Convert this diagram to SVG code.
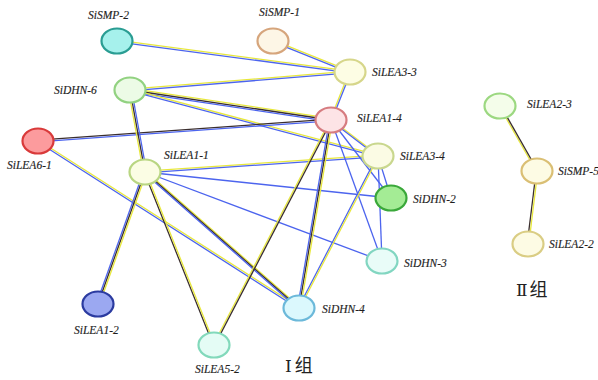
<svg xmlns="http://www.w3.org/2000/svg" width="598" height="380" viewBox="0 0 598 380">
  <style>
    .edges line { stroke-width: 1.3; fill: none; }
    .y { stroke: #e8e83c; }
    .b { stroke: #4c64ee; }
    .k { stroke: #3a2e2e; }
    .node ellipse { stroke-width: 2.2; }
    .lbl { font-family: "Liberation Serif", "Times New Roman", serif; font-style: italic; font-size: 11.5px; fill: #1e1e1e; stroke: #1e1e1e; stroke-width: 0.15; }
    .grp { font-family: "Noto Sans CJK SC", sans-serif; font-size: 18px; fill: #222; }
    .num { font-family: "DejaVu Serif", "Liberation Serif", serif; font-size: 17px; }
  </style>
  <rect width="598" height="380" fill="#fff"/>

  <!-- connectors: parallel strands per evidence type -->
  <g id="connectors" class="edges">
    <!-- SiSMP-2 – SiLEA3-3 -->
    <line class="y" x1="117" y1="40.2" x2="350" y2="71.2"/>
    <line class="b" x1="117" y1="41.8" x2="350" y2="72.8"/>
    <!-- SiSMP-1 – SiLEA3-3 -->
    <line class="y" x1="273" y1="40.2" x2="350" y2="71.2"/>
    <line class="b" x1="273" y1="41.8" x2="350" y2="72.8"/>
    <!-- SiDHN-6 – SiLEA3-3 -->
    <line class="y" x1="130" y1="89.2" x2="350" y2="71.2"/>
    <line class="b" x1="130" y1="90.8" x2="350" y2="72.8"/>
    <!-- SiDHN-6 – SiLEA1-4 -->
    <line class="y" x1="130" y1="88.4" x2="331" y2="118.4"/>
    <line class="k" x1="130" y1="90" x2="331" y2="120"/>
    <line class="b" x1="130" y1="91.6" x2="331" y2="121.6"/>
    <!-- SiDHN-6 – SiLEA3-4 -->
    <line class="y" x1="130" y1="89.2" x2="378" y2="155.2"/>
    <line class="b" x1="130" y1="90.8" x2="378" y2="156.8"/>
    <!-- SiLEA6-1 – SiLEA1-4 -->
    <line class="k" x1="38" y1="140.2" x2="331" y2="119.2"/>
    <line class="b" x1="38" y1="141.8" x2="331" y2="120.8"/>
    <!-- SiLEA6-1 – SiDHN-4 -->
    <line class="y" x1="38" y1="140" x2="299" y2="307"/>
    <line class="b" x1="38" y1="142" x2="299" y2="309"/>
    <!-- SiDHN-6 – SiLEA1-1 -->
    <line class="y" x1="128.4" y1="90" x2="143.4" y2="172"/>
    <line class="k" x1="130" y1="90" x2="145" y2="172"/>
    <line class="b" x1="131.6" y1="90" x2="146.6" y2="172"/>
    <!-- SiLEA1-1 – SiLEA1-2 -->
    <line class="b" x1="143.4" y1="172" x2="96.4" y2="304"/>
    <line class="k" x1="145" y1="172" x2="98" y2="304"/>
    <line class="y" x1="146.6" y1="172" x2="99.6" y2="304"/>
    <!-- SiLEA1-1 – SiLEA5-2 -->
    <line class="k" x1="144.2" y1="172" x2="213.2" y2="345"/>
    <line class="y" x1="145.8" y1="172" x2="214.8" y2="345"/>
    <!-- SiLEA1-1 – SiDHN-4 -->
    <line class="y" x1="145" y1="170.5" x2="299" y2="306.5"/>
    <line class="k" x1="145" y1="172" x2="299" y2="308"/>
    <line class="b" x1="145" y1="173.5" x2="299" y2="309.5"/>
    <!-- SiLEA1-1 – SiLEA3-4 -->
    <line class="y" x1="145" y1="171.2" x2="378" y2="155.2"/>
    <line class="b" x1="145" y1="172.8" x2="378" y2="156.8"/>
    <!-- SiLEA1-1 – SiDHN-2 / SiDHN-3 -->
    <line class="b" x1="145" y1="172" x2="391" y2="198"/>
    <line class="b" x1="145" y1="172" x2="382" y2="261"/>
    <!-- SiLEA1-4 – SiLEA5-2 -->
    <line class="y" x1="330.2" y1="120" x2="213.2" y2="345"/>
    <line class="k" x1="331.8" y1="120" x2="214.8" y2="345"/>
    <!-- SiLEA1-4 – SiDHN-4 -->
    <line class="b" x1="329.5" y1="120" x2="297.5" y2="308"/>
    <line class="k" x1="331" y1="120" x2="299" y2="308"/>
    <line class="y" x1="332.5" y1="120" x2="300.5" y2="308"/>
    <!-- SiLEA1-4 – SiLEA3-4 -->
    <line class="y" x1="331" y1="119.2" x2="378" y2="155.2"/>
    <line class="b" x1="331" y1="120.8" x2="378" y2="156.8"/>
    <!-- SiLEA1-4 – SiDHN-2 / SiDHN-3 -->
    <line class="b" x1="331" y1="120" x2="391" y2="198"/>
    <line class="b" x1="331" y1="120" x2="382" y2="261"/>
    <!-- SiLEA3-4 – SiDHN-4 -->
    <line class="b" x1="377.2" y1="156" x2="298.2" y2="308"/>
    <line class="y" x1="378.8" y1="156" x2="299.8" y2="308"/>
    <!-- SiLEA3-4 – SiDHN-2 / SiDHN-3 -->
    <line class="b" x1="378" y1="156" x2="391" y2="198"/>
    <line class="b" x1="378" y1="156" x2="382" y2="261"/>
    <!-- SiLEA3-3 – SiLEA1-4 -->
    <line class="y" x1="349.2" y1="72" x2="330.2" y2="120"/>
    <line class="b" x1="350.8" y1="72" x2="331.8" y2="120"/>
    <!-- SiLEA2-3 – SiSMP-5 -->
    <line class="y" x1="499.2" y1="106" x2="536.2" y2="171"/>
    <line class="k" x1="500.8" y1="106" x2="537.8" y2="171"/>
    <!-- SiSMP-5 – SiLEA2-2 -->
    <line class="k" x1="536.2" y1="171" x2="527.2" y2="244"/>
    <line class="y" x1="537.8" y1="171" x2="528.8" y2="244"/>
  </g>

  <!-- nodes -->
  <g id="SiSMP-2" class="node">
    <ellipse cx="117" cy="41" rx="15.5" ry="12.5" fill="#a6f1ec" stroke="#2a9d93"/>
    <text class="lbl" x="88" y="18.5">SiSMP-2</text>
  </g>
  <g id="SiSMP-1" class="node">
    <ellipse cx="273" cy="41" rx="15.5" ry="12.5" fill="#fdf6e6" stroke="#d6a57c"/>
    <text class="lbl" x="259" y="16">SiSMP-1</text>
  </g>
  <g id="SiLEA3-3" class="node">
    <ellipse cx="350" cy="72" rx="15.5" ry="12.5" fill="#fdfde4" stroke="#d6d68a"/>
    <text class="lbl" x="372" y="76">SiLEA3-3</text>
  </g>
  <g id="SiDHN-6" class="node">
    <ellipse cx="130" cy="90" rx="15.5" ry="12.5" fill="#ecfbe6" stroke="#92d281"/>
    <text class="lbl" x="54" y="94">SiDHN-6</text>
  </g>
  <g id="SiLEA1-4" class="node">
    <ellipse cx="331" cy="120" rx="15.5" ry="12.5" fill="#fde4e6" stroke="#d67c80"/>
    <text class="lbl" x="357" y="122">SiLEA1-4</text>
  </g>
  <g id="SiLEA6-1" class="node">
    <ellipse cx="38" cy="141" rx="15.5" ry="12.5" fill="#fc9b9d" stroke="#d93a3a"/>
    <text class="lbl" x="7" y="169">SiLEA6-1</text>
  </g>
  <g id="SiLEA3-4" class="node">
    <ellipse cx="378" cy="156" rx="15.5" ry="12.5" fill="#fbfbe4" stroke="#c9d78e"/>
    <text class="lbl" x="400" y="160">SiLEA3-4</text>
  </g>
  <g id="SiLEA1-1" class="node">
    <ellipse cx="145" cy="172" rx="15.5" ry="12.5" fill="#fbfde4" stroke="#b9d682"/>
    <text class="lbl" x="164" y="159">SiLEA1-1</text>
  </g>
  <g id="SiDHN-2" class="node">
    <ellipse cx="391" cy="198" rx="15.5" ry="12.5" fill="#a4ec95" stroke="#3aa83a"/>
    <text class="lbl" x="413" y="203">SiDHN-2</text>
  </g>
  <g id="SiDHN-3" class="node">
    <ellipse cx="382" cy="261" rx="15.5" ry="12.5" fill="#e9fcf8" stroke="#82d6c1"/>
    <text class="lbl" x="404" y="267">SiDHN-3</text>
  </g>
  <g id="SiDHN-4" class="node">
    <ellipse cx="299" cy="308" rx="15.5" ry="12.5" fill="#dbf8fd" stroke="#6cb9da"/>
    <text class="lbl" x="322" y="313">SiDHN-4</text>
  </g>
  <g id="SiLEA1-2" class="node">
    <ellipse cx="98" cy="304" rx="15.5" ry="12.5" fill="#9ba8f1" stroke="#2b3ba0"/>
    <text class="lbl" x="74" y="334">SiLEA1-2</text>
  </g>
  <g id="SiLEA5-2" class="node">
    <ellipse cx="214" cy="345" rx="15.5" ry="12.5" fill="#e4fcf5" stroke="#82d9bb"/>
    <text class="lbl" x="195" y="373">SiLEA5-2</text>
  </g>
  <g id="SiLEA2-3" class="node">
    <ellipse cx="500" cy="106" rx="15.5" ry="12.5" fill="#f4fdea" stroke="#9cd881"/>
    <text class="lbl" x="527" y="108">SiLEA2-3</text>
  </g>
  <g id="SiSMP-5" class="node">
    <ellipse cx="537" cy="171" rx="15.5" ry="12.5" fill="#fdfbe4" stroke="#dabf74"/>
    <text class="lbl" x="558" y="175">SiSMP-5</text>
  </g>
  <g id="SiLEA2-2" class="node">
    <ellipse cx="528" cy="244" rx="15.5" ry="12.5" fill="#fdfbe4" stroke="#dacd84"/>
    <text class="lbl" x="549" y="248">SiLEA2-2</text>
  </g>

  <!-- group captions -->
  <text class="grp" x="285" y="372"><tspan class="num">Ⅰ</tspan><tspan dx="3">组</tspan></text>
  <text class="grp" x="516" y="296"><tspan class="num">Ⅱ</tspan><tspan dx="2">组</tspan></text>
</svg>
